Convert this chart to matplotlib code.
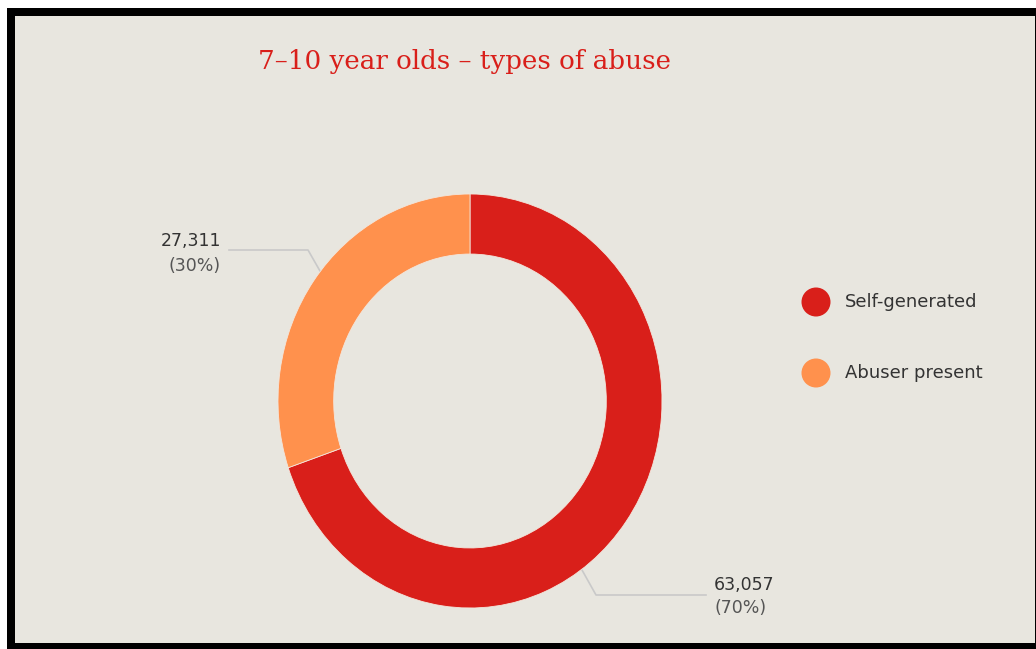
import numpy as np
import matplotlib.pyplot as plt
from matplotlib.patches import Rectangle, Circle

# data
categories = ['Self-generated', 'Abuser present']
counts = [63057, 27311]
colors = ['#D91F1A', '#FF914D']
title = '7\u201310 year olds \u2013 types of abuse'

W, H = 1036, 649
fig = plt.figure(figsize=(W / 100, H / 100), dpi=100)
fig.patch.set_facecolor('white')

# overlay axes in pixel units (y downwards)
bg = fig.add_axes([0, 0, 1, 1])
bg.set_xlim(0, W)
bg.set_ylim(H, 0)
bg.axis('off')
bg.add_patch(Rectangle((7, 8), W - 7, H - 8, facecolor='black', edgecolor='none'))
bg.add_patch(Rectangle((15, 16), 1020, 627, facecolor='#E8E6DF', edgecolor='none'))

# donut, placed in pixel box x 278..662, y 194..608
def px(x0, y0, x1, y1):
    return [x0 / W, 1 - y1 / H, (x1 - x0) / W, (y1 - y0) / H]

ax = fig.add_axes(px(278, 194, 662, 608))
ax.pie(counts, colors=colors, startangle=90, counterclock=False,
       radius=1.0, wedgeprops=dict(width=0.29, edgecolor='#F3E6DC', linewidth=0.6))
ax.set_aspect('auto')
ax.set_xlim(-1, 1)
ax.set_ylim(-1, 1)
ax.axis('off')

# title
bg.text(258, 62, title, color='#D91F1A', fontsize=18.8, family='DejaVu Serif',
        ha='left', va='center')

total = sum(counts)
pcts = [round(c / total * 100) for c in counts]
dark = '#333333'
grey = '#555555'
line_c = '#C9C9C9'

# leader lines (pixel layout)
bg.plot([320, 308, 229], [271, 250, 250], color=line_c, lw=1.2)
bg.plot([582, 596, 706], [570, 595, 595], color=line_c, lw=1.2)

# labels
bg.text(221, 241, '{:,}'.format(counts[1]), ha='right', va='center',
        fontsize=12.5, color=dark)
bg.text(221, 266, '({}%)'.format(pcts[1]), ha='right', va='center',
        fontsize=12.5, color=grey)
bg.text(714, 585, '{:,}'.format(counts[0]), ha='left', va='center',
        fontsize=12.5, color=dark)
bg.text(714, 608, '({}%)'.format(pcts[0]), ha='left', va='center',
        fontsize=12.5, color=grey)

# legend
for i, (name, c) in enumerate(zip(categories, colors)):
    y = 302 + i * 71
    bg.add_patch(Circle((816, y), 14.5, facecolor=c, edgecolor='none'))
    bg.text(845, y, name, ha='left', va='center', fontsize=13, color=dark)

fig.savefig('out.png', dpi=100)
